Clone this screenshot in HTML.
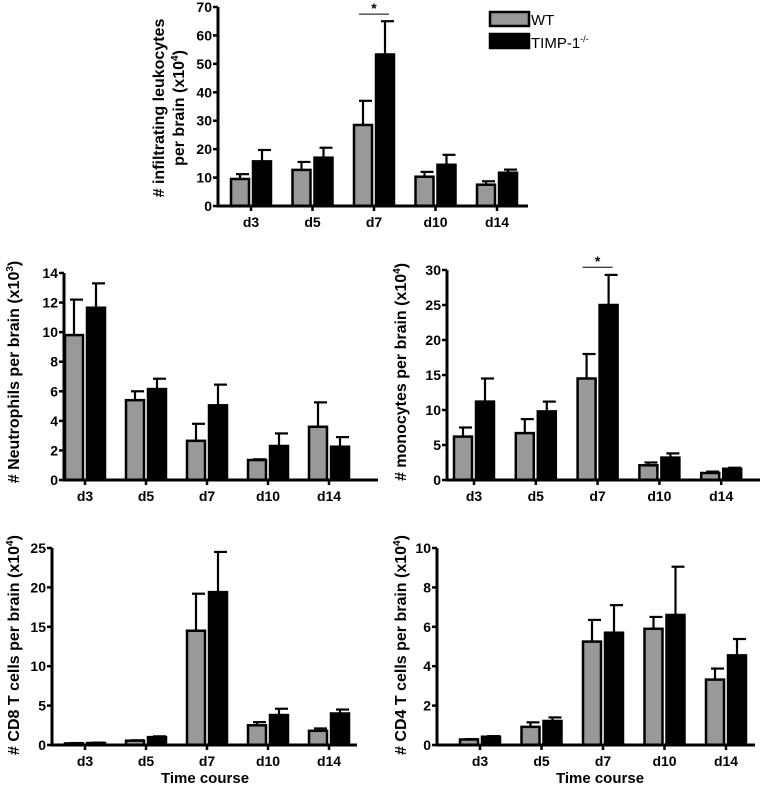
<!DOCTYPE html>
<html><head><meta charset="utf-8"><style>
body{margin:0;background:#fff;}
svg{display:block;font-family:"Liberation Sans",sans-serif;font-weight:bold;}
</style></head><body>
<svg id="s" width="765" height="790" viewBox="0 0 765 790">
<g>
<rect x="490" y="12" width="39" height="14" fill="#999" stroke="#000" stroke-width="2.5"/>
<text x="531" y="25" font-size="15" font-weight="normal">WT</text>
<rect x="490" y="34" width="39" height="14" fill="#000" stroke="#000" stroke-width="2.5"/>
<text x="531" y="48" font-size="15" font-weight="normal">TIMP-1<tspan font-size="9" dy="-6">-/-</tspan></text>
</g>
<text x="205" y="783" font-size="15" text-anchor="middle">Time course</text>
<text x="600" y="783" font-size="15" text-anchor="middle">Time course</text>
</svg>
<script>
const categories=["d3","d5","d7","d10","d14"];
const leukWT=[9.5,12.7,28.5,10.3,7.5];
const leukWTerr=[11.2,15.5,37,12,8.7];
const leukKO=[15.7,17,53.3,14.5,11.7];
const leukKOerr=[19.7,20.5,65,18,12.8];
const leukTicks=[0,10,20,30,40,50,60,70];
const neuWT=[9.8,5.4,2.65,1.35,3.6];
const neuWTerr=[12.2,6.0,3.8,1.4,5.25];
const neuKO=[11.65,6.15,5.05,2.3,2.25];
const neuKOerr=[13.3,6.85,6.45,3.15,2.9];
const neuTicks=[0,2,4,6,8,10,12,14];
const monWT=[6.2,6.7,14.5,2.1,1.0];
const monWTerr=[7.5,8.7,18.0,2.5,1.2];
const monKO=[11.2,9.8,25,3.2,1.6];
const monKOerr=[14.5,11.2,29.3,3.8,1.75];
const monTicks=[0,5,10,15,20,25,30];
const cd8WT=[0.2,0.55,14.5,2.5,1.8];
const cd8WTerr=[0.25,0.6,19.2,2.9,2.1];
const cd8KO=[0.25,1.0,19.4,3.8,4.0];
const cd8KOerr=[0.3,1.1,24.5,4.6,4.5];
const cd8Ticks=[0,5,10,15,20,25];
const cd4WT=[0.28,0.92,5.25,5.9,3.32];
const cd4WTerr=[0.3,1.15,6.35,6.5,3.88];
const cd4KO=[0.42,1.22,5.7,6.6,4.55];
const cd4KOerr=[0.45,1.4,7.1,9.05,5.38];
const cd4Ticks=[0,2,4,6,8,10];

const NS="http://www.w3.org/2000/svg";
const svg=document.getElementById('s');
function mk(tag,attrs,parent){const e=document.createElementNS(NS,tag);for(const k in attrs)e.setAttribute(k,attrs[k]);(parent||svg).appendChild(e);return e;}

function chart(o){
  const g=mk('g',{});
  
  
  const ymax=o.ticks[o.ticks.length-1];
  const y=v=>o.y0-(v/ymax)*(o.y0-o.y1);
  const cx=i=>o.c0+i*o.step;
  const bw=18,gap=4;
  [[o.wt,o.wte,'#999','wt'],[o.ko,o.koe,'#000','timp']].forEach((s,si)=>{
    s[0].forEach((v,i)=>{
      const x=si===0?cx(i)-gap/2-bw:cx(i)+gap/2;
      const m=x+bw/2;
      const et=mk('line',{x1:m,x2:m,y1:y(v),y2:y(s[1][i]),stroke:'#000','stroke-width':2.2},g);
      
      
      const cap=mk('line',{x1:m-4,x2:m+9,y1:y(s[1][i]),y2:y(s[1][i]),stroke:'#000','stroke-width':2.2},g);
      
      
      const r=mk('rect',{x:x,y:y(v),width:bw,height:o.y0-y(v),fill:s[2],stroke:'#000','stroke-width':2.5},g);
      
      
    });
  });
  const ya=mk('line',{x1:o.x0,x2:o.x0,y1:o.y1,y2:o.y0+1.5,stroke:'#000','stroke-width':3},g);
  
  
  const xa=mk('line',{x1:o.x0-1.5,x2:o.xe,y1:o.y0,y2:o.y0,stroke:'#000','stroke-width':3},g);
  
  
  o.ticks.forEach(t=>{
    mk('line',{x1:o.x0-5,x2:o.x0,y1:y(t),y2:y(t),stroke:'#000','stroke-width':2.5},g);
    const tl=mk('text',{x:o.x0-6,y:y(t)+5,'font-size':14,'text-anchor':'end'},g);
    tl.textContent=t;
    
    
  });
  categories.forEach((c,i)=>{
    mk('line',{x1:cx(i),x2:cx(i),y1:o.y0,y2:o.y0+5,stroke:'#000','stroke-width':2.5},g);
    const tl=mk('text',{x:cx(i),y:o.y0+21,'font-size':14,'text-anchor':'middle'},g);
    tl.textContent=c;
    
    
  });
  o.labels.forEach((L)=>{
    const t=mk('text',{transform:`translate(${L[1]},${L[2]}) rotate(-90)`,'font-size':L[3]||15,'text-anchor':'middle'},g);
    t.innerHTML=L[0];
    
    
  });
  if(o.sig!==undefined){
    const i=o.sig;
    const sl=mk('line',{x1:cx(i)-15,x2:cx(i)+15,y1:y(o.sigv),y2:y(o.sigv),stroke:'#000','stroke-width':1},g);
    
    
    const st=mk('text',{x:cx(i),y:y(o.sigv)-1,'font-size':14,'text-anchor':'middle'},g);
    st.textContent='*';
    
    
  }
}
const sup=n=>`<tspan font-size="10" dy="-6">${n}</tspan><tspan dy="6">)</tspan>`;
chart({name:'leukocytes-chart',x0:218,y0:206,y1:7,xe:528,c0:251,step:61.5,wt:leukWT,wte:leukWTerr,ko:leukKO,koe:leukKOerr,ticks:leukTicks,
  labels:[['# infiltrating leukocytes',164,108,16],['per brain (x10'+sup(4),184,108,16]],sig:2,sigv:67.5});
chart({name:'neutrophils-chart',x0:64,y0:480,y1:273,xe:378,c0:85,step:61,wt:neuWT,wte:neuWTerr,ko:neuKO,koe:neuKOerr,ticks:neuTicks,
  labels:[['# Neutrophils per brain (x10'+sup(3),19,372,16]]});
chart({name:'monocytes-chart',x0:447,y0:480,y1:270,xe:760,c0:474,step:61.8,wt:monWT,wte:monWTerr,ko:monKO,koe:monKOerr,ticks:monTicks,
  labels:[['# monocytes per brain (x10'+sup(4),406,372,16]],sig:2,sigv:30.4});
chart({name:'cd8-chart',x0:52,y0:745,y1:548,xe:357,c0:85,step:61,wt:cd8WT,wte:cd8WTerr,ko:cd8KO,koe:cd8KOerr,ticks:cd8Ticks,
  labels:[['# CD8  T cells per brain (x10'+sup(4),19,645,16]]});
chart({name:'cd4-chart',x0:437,y0:745,y1:548,xe:755,c0:480,step:61.5,wt:cd4WT,wte:cd4WTerr,ko:cd4KO,koe:cd4KOerr,ticks:cd4Ticks,
  labels:[['# CD4 T cells per brain (x10'+sup(4),406,645,16]]});
</script>
</body></html>
